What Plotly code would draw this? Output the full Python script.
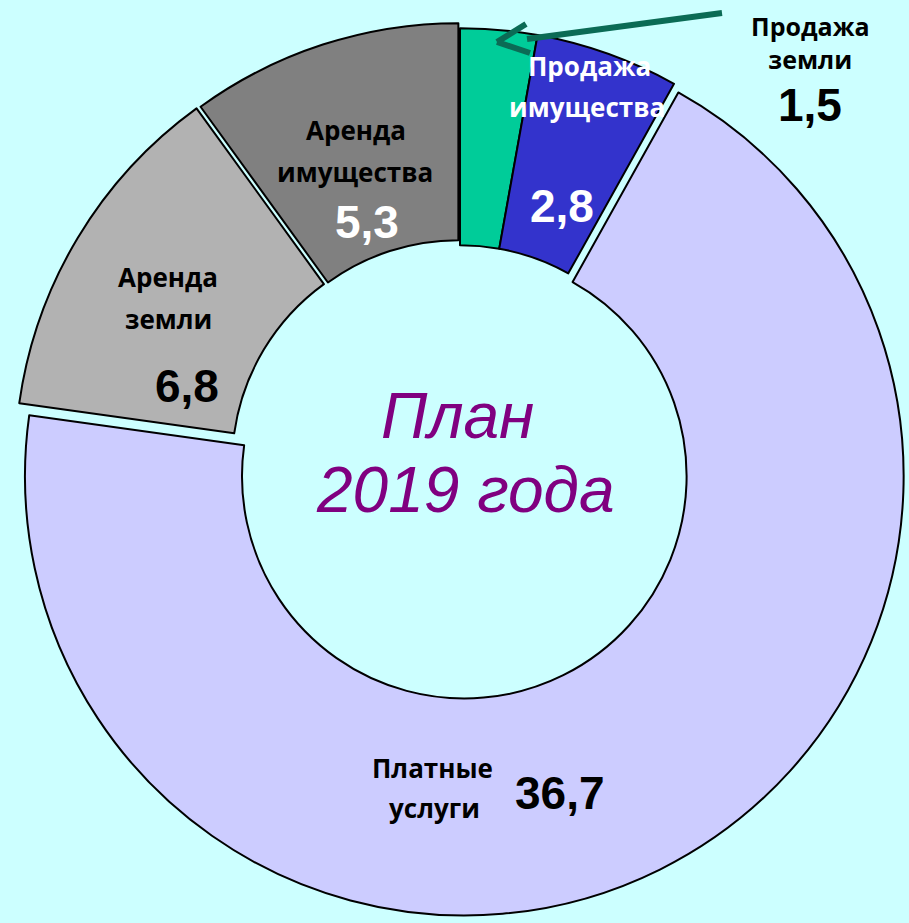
import plotly.graph_objects as go

W, H = 909, 923

# ---- data ----
categories = ["Продажа земли", "Продажа имущества", "Платные услуги", "Аренда земли", "Аренда имущества"]
values = [1.5, 2.8, 36.7, 6.8, 5.3]
value_labels = ["1,5", "2,8", "36,7", "6,8", "5,3"]
name_lines = [["Продажа", "земли"], ["Продажа", "имущества"], ["Платные", "услуги"],
              ["Аренда", "земли"], ["Аренда", "имущества"]]
center_lines = ["План", "2019 года"]

# ---- styles ----
colors = ["#00CC99", "#3333CC", "#CCCCFF", "#B2B2B2", "#808080"]
pulls = [0.0, 0.0, 0.022, 0.015, 0.012]
name_colors = ["black", "white", "black", "black", "black"]
value_colors = ["black", "white", "black", "black", "white"]
# label positions in pixels: None = one block (centre given), else per-line centres
name_pos = [[(810, 43)], [(589, 66), (587, 107)], [(432, 768), (434, 808)],
            [(168, 277), (168, 319)], [(356, 130), (355, 172)]]
value_pos = [(810, 105), (562, 206), (560, 793), (187, 386), (367, 222)]
center_pos = [(457, 416), (465, 490)]

BG = "#CCFFFF"

def px(x):
    return x / W

def py(y):
    return 1 - y / H

fig = go.Figure(go.Pie(
    labels=categories,
    values=values,
    hole=0.506,
    sort=False,
    direction="clockwise",
    rotation=0,
    pull=pulls,
    marker=dict(colors=colors, line=dict(color="black", width=2)),
    textinfo="none",
    hoverinfo="skip",
    showlegend=False,
    domain=dict(x=[11 / W, 1], y=[0, 1 - 12 / H]),
))

annotations = []
name_font = "Open Sans"
for i in range(len(categories)):
    pos = name_pos[i]
    if len(pos) == 1:
        texts = ["<br>".join("<b>%s</b>" % l for l in name_lines[i])]
        size = 25
    else:
        texts = ["<b>%s</b>" % l for l in name_lines[i]]
        size = 26
    for t, (x, y) in zip(texts, pos):
        annotations.append(dict(x=px(x), y=py(y), xref="paper", yref="paper", text=t,
                                showarrow=False, xanchor="center", yanchor="middle", borderpad=0,
                                font=dict(family=name_font, size=size, color=name_colors[i])))
    vx, vy = value_pos[i]
    annotations.append(dict(x=px(vx), y=py(vy), xref="paper", yref="paper", text="<b>%s</b>" % value_labels[i],
                            showarrow=False, xanchor="center", yanchor="middle", borderpad=0,
                            font=dict(family="Liberation Sans, Arial", size=46, color=value_colors[i])))

for line, (x, y) in zip(center_lines, center_pos):
    annotations.append(dict(x=px(x), y=py(y), xref="paper", yref="paper", text="<i>%s</i>" % line,
                            showarrow=False, xanchor="center", yanchor="middle", borderpad=0,
                            font=dict(family="Liberation Sans, Arial", size=64, color="#800080")))

arrow_color = "#0B6B55"
arrow_segments = [((722, 13), (527, 39)), ((497, 42), (526, 24)), ((497, 42), (530, 53))]
shapes = []
for (x0, y0), (x1, y1) in arrow_segments:
    shapes.append(dict(type="line", xref="paper", yref="paper", x0=px(x0), y0=py(y0), x1=px(x1), y1=py(y1),
                       line=dict(color=arrow_color, width=6)))

fig.update_layout(
    width=W, height=H,
    margin=dict(l=0, r=0, t=0, b=0),
    paper_bgcolor=BG, plot_bgcolor=BG,
    annotations=annotations,
    shapes=shapes,
)

fig.write_html("out.html", config={"displayModeBar": False},
               post_script="document.body.style.margin='0px';document.body.style.background='%s';" % BG)
